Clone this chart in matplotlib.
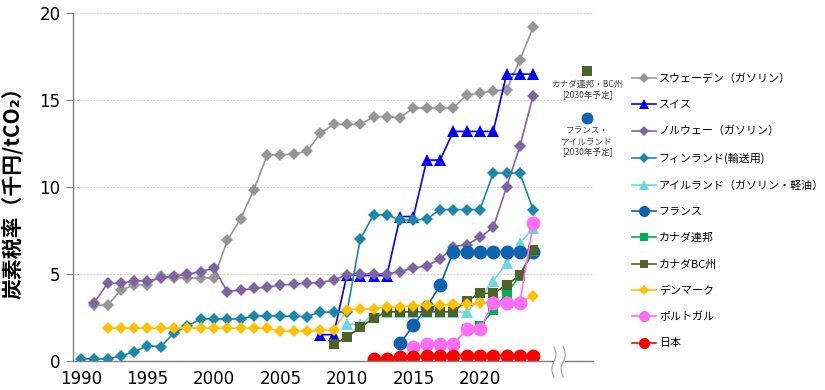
import numpy as np
import matplotlib
matplotlib.use('Agg')
import matplotlib.pyplot as plt
import matplotlib.transforms as mtransforms

plt.rcParams['font.family'] = ['DejaVu Sans']
jp = ['Noto Sans CJK JP', 'DejaVu Sans']

# data (thousand yen / tCO2)
sweden_years = list(range(1991, 2025))
sweden = [3.2, 3.2, 4.06, 4.36, 4.36, 4.88, 4.76, 4.76, 4.76, 4.76, 6.92, 8.17, 9.84,
          11.84, 11.84, 11.91, 12.05, 13.1, 13.6, 13.6, 13.6, 14.05, 14.05, 14.0,
          14.55, 14.55, 14.55, 14.55, 15.3, 15.4, 15.55, 15.6, 17.3, 19.2]
swiss_years = list(range(2008, 2025))
swiss = [1.5, 1.5, 4.95, 4.9, 4.9, 4.9, 8.3, 8.3, 11.55, 11.55, 13.2, 13.2, 13.2, 13.2,
         16.5, 16.5, 16.5]
norway_years = list(range(1991, 2025))
norway = [3.34, 4.46, 4.46, 4.6, 4.6, 4.75, 4.88, 4.98, 5.13, 5.33, 3.98, 4.07, 4.17,
          4.23, 4.36, 4.4, 4.46, 4.5, 4.65, 4.94, 5.0, 5.0, 5.0, 5.13, 5.33, 5.46,
          5.84, 6.57, 6.67, 7.1, 7.68, 9.99, 12.34, 15.26]
finland_years = list(range(1990, 2025))
finland = [0.1, 0.1, 0.1, 0.27, 0.52, 0.86, 0.81, 1.6, 2.0, 2.4, 2.4, 2.4, 2.4, 2.58,
           2.58, 2.58, 2.55, 2.54, 2.8, 2.8, 2.8, 7.0, 8.4, 8.4, 8.1, 8.1, 8.15, 8.7,
           8.7, 8.7, 8.7, 10.8, 10.8, 10.8, 8.7]
ireland_years = list(range(2010, 2025))
ireland = [2.1, 2.1, 2.65, 2.8, 2.8, 2.8, 2.8, 2.8, 2.8, 2.8, 3.6, 4.6, 5.6, 6.75, 7.65]
france_years = list(range(2014, 2025))
france = [1.0, 2.03, 3.1, 4.33, 6.28, 6.28, 6.28, 6.28, 6.28, 6.28, 6.28]
canada_years = list(range(2019, 2025))
canada = [1.8, 2.0, 2.9, 3.85, 4.9, 6.3]
bc_years = list(range(2009, 2025))
bc = [0.96, 1.35, 1.92, 2.44, 2.82, 2.82, 2.82, 2.82, 2.82, 2.82, 3.45, 3.88, 3.88,
      4.36, 4.92, 6.38]
denmark_years = list(range(1992, 2025))
denmark = [1.87] * 13 + [1.7, 1.7, 1.7, 1.75, 1.75, 2.92, 2.97, 3.0, 3.08, 3.1, 3.15,
                         3.2, 3.2, 3.25, 3.25, 3.3, 3.38, 3.38, 3.36, 3.73]
portugal_years = list(range(2015, 2025))
portugal = [0.77, 0.95, 0.95, 0.95, 1.81, 1.81, 3.34, 3.34, 3.34, 7.9]
japan_years = list(range(2012, 2025))
japan = [0.1, 0.1, 0.2, 0.2] + [0.29] * 9

# planned 2030 values (drawn right of the axis break)
plan_x = 2028.05
canada_2030 = 16.66
france_2030 = 14.0

labels = ['スウェーデン（ガソリン）', 'スイス', 'ノルウェー（ガソリン）', 'フィンランド(輸送用)',
          'アイルランド（ガソリン・軽油）', 'フランス', 'カナダ連邦', 'カナダBC州',
          'デンマーク', 'ポルトガル', '日本']

series = [
    (sweden_years, sweden, '#969696', 'D', 6.3),
    (swiss_years, swiss, '#0000FF', '^', 9),
    (norway_years, norway, '#8064A2', 'D', 6.3),
    (finland_years, finland, '#1A87AB', 'D', 6.3),
    (ireland_years, ireland, '#6DD8DE', '^', 9),
    (france_years, france, '#0F62AE', 'o', 10),
    (canada_years, canada, '#00B050', 's', 7.5),
    (bc_years, bc, '#4F6228', 's', 7.5),
    (denmark_years, denmark, '#FFC000', 'D', 6.3),
    (portugal_years, portugal, '#FF6EF5', 'o', 10),
    (japan_years, japan, '#FF0000', 'o', 10),
]

fig = plt.figure(figsize=(8.25, 3.9), dpi=100)
ax = fig.add_axes([73 / 825, 1 - 360.7 / 390, 520 / 825, 347.4 / 390])

handles = []
for (xs, ys, c, m, ms), lab in zip(series, labels):
    h, = ax.plot(xs, ys, color=c, marker=m, markersize=ms, lw=1.2,
                 markeredgewidth=0, label=lab)
    handles.append(h)

ax.set_xlim(1989.4, 2028.5)
ax.set_ylim(0, 20)
ax.set_xticks(range(1990, 2021, 5))
ax.set_yticks(range(0, 21, 5))
ax.tick_params(axis='x', length=0, pad=7, labelsize=12)
ax.tick_params(axis='y', length=5, color='#808080', pad=4, labelsize=12)
for s in ['top', 'right']:
    ax.spines[s].set_visible(False)
for s in ['left', 'bottom']:
    ax.spines[s].set_color('#808080')
    ax.spines[s].set_linewidth(1.0)
ax.yaxis.grid(True, color='#D0D0D0', linestyle=(0, (2, 1)), linewidth=0.8)
ax.set_axisbelow(True)

# axis break mark
tr = mtransforms.blended_transform_factory(ax.transData, ax.transAxes)
yy = np.linspace(0.04, -0.047, 60)
t = (yy - yy[0]) / (yy[-1] - yy[0])
x1 = 2025.56 + 0.15 * np.sin(2 * np.pi * t)
x2 = 2026.26 + 0.15 * np.sin(2 * np.pi * t)
ax.fill_betweenx(yy, x1, x2, transform=tr, color='white', clip_on=False, zorder=5)
ax.plot(x1, yy, transform=tr, color='#A6A6A6', lw=0.9, clip_on=False, zorder=6)
ax.plot(x2, yy, transform=tr, color='#A6A6A6', lw=0.9, clip_on=False, zorder=6)

# planned 2030 points
ax.plot([plan_x], [canada_2030], marker='s', color='#4F6228', markersize=7,
        markeredgewidth=0, clip_on=False, zorder=7)
ax.plot([plan_x], [france_2030], marker='o', color='#0F62AE', markersize=8.5,
        markeredgewidth=0, clip_on=False, zorder=7)
ax.text(plan_x, canada_2030 - 0.5, 'カナダ連邦・BC州\n[2030年予定]', ha='center', va='top',
        fontsize=6.2, family=jp, color='#404040', linespacing=1.15, clip_on=False)
ax.text(plan_x, france_2030 - 0.55, 'フランス・\nアイルランド\n[2030年予定]', ha='center',
        va='top', fontsize=6.2, family=jp, color='#404040', linespacing=1.15,
        clip_on=False)

fig.text(12 / 825, 1 - 188 / 390, '炭素税率（千円/tCO₂）', rotation=90, ha='center',
         va='center', fontsize=15, fontweight='bold', family=jp)

leg = fig.legend(handles=handles, loc='upper left', bbox_to_anchor=(632 / 825, 1 - 73 / 390),
                 bbox_transform=fig.transFigure, frameon=False, borderpad=0,
                 borderaxespad=0, handlelength=2.2, handletextpad=0.25,
                 labelspacing=1.47, markerscale=0.8, prop={'family': jp, 'size': 7.9})

fig.savefig('out.png', dpi=100)
